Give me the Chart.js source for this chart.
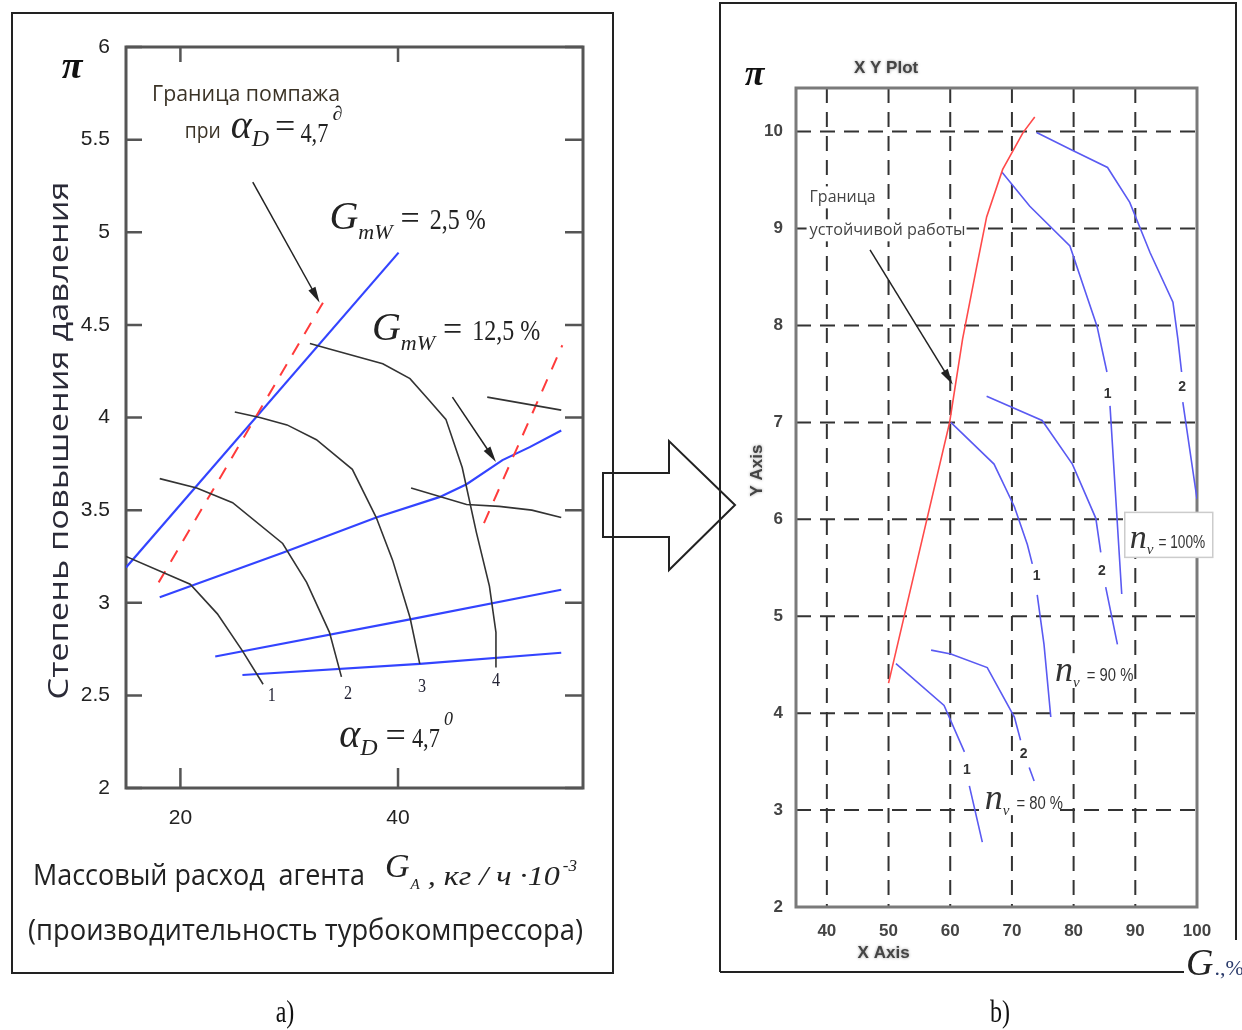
<!DOCTYPE html>
<html>
<head>
<meta charset="utf-8">
<script src="https://cdn.jsdelivr.net/npm/chart.js@4.4.0/dist/chart.umd.min.js"></script>
<style>
html, body { margin: 0; padding: 0; background: #fff; }
#wrap { position: relative; width: 1242px; height: 1030px; overflow: hidden; background: #fff; }
canvas { position: absolute; top: 0; }
#deco { left: 0; }
#chartA { left: 0; }
#chartB { left: 620px; }
</style>
</head>
<body>
<div id="wrap">
  <canvas id="deco" width="1242" height="1030"></canvas>
  <canvas id="chartA" width="620" height="1030"></canvas>
  <canvas id="chartB" width="622" height="1030"></canvas>
</div>
<script>
// ---------- panel a) : G_A (kg/h*10^-3) vs pi ----------
var xTicksA = [20, 40];
var yTicksA = [2, 2.5, 3, 3.5, 4, 4.5, 5, 5.5, 6];

// blue lines (constant G_mW)
var gmw25 = [[15, 3.19], [40.05, 4.89]];
var gmw125 = [[18.1, 3.03], [29.4, 3.27], [38.0, 3.46], [43.8, 3.57], [46.3, 3.64], [49.6, 3.77], [52.1, 3.84], [55.0, 3.93]];
var blueC = [[23.2, 2.71], [41.1, 2.91], [55.0, 3.07]];
var blueD = [[25.7, 2.61], [42.0, 2.67], [55.0, 2.73]];

// black speed lines 1..4
var speed1 = [[15, 3.25], [20.9, 3.10], [23.4, 2.94], [25.7, 2.74], [27.6, 2.56]];
var speed2 = [[18.1, 3.67], [21.5, 3.62], [24.8, 3.54], [29.4, 3.32], [31.6, 3.11], [33.7, 2.84], [34.8, 2.60]];
var speed3 = [[25.0, 4.03], [27.3, 4.00], [29.8, 3.96], [32.5, 3.88], [35.8, 3.72], [38.0, 3.46], [39.5, 3.23], [41.1, 2.92], [42.0, 2.67]];
var speed4 = [[31.9, 4.40], [33.7, 4.37], [38.6, 4.29], [41.1, 4.21], [42.9, 4.09], [44.4, 3.99], [45.9, 3.73], [47.2, 3.38], [48.4, 3.09], [49.0, 2.84], [49.0, 2.65]];
var blackTop = [[48.2, 4.11], [55.0, 4.04]];
var blackMid = [[41.2, 3.62], [46.3, 3.53], [49.3, 3.52], [52.3, 3.50], [55.0, 3.46]];

// red dashed surge limits
var surgeA = [[18.0, 3.11], [33.1, 4.62]];
var surgeB = [[47.9, 3.43], [55.1, 4.39]];

// ---------- panel b) : G (%) vs pi ----------
var xTicksB = [40, 50, 60, 70, 80, 90, 100];
var yTicksB = [2, 3, 4, 5, 6, 7, 8, 9, 10];

var stableLine = [[50.0, 4.31], [59.9, 7.00], [62.0, 7.86], [64.3, 8.61], [65.9, 9.12], [68.5, 9.61], [71.8, 9.99], [73.7, 10.15]];
var n100c1 = [[68.4, 9.58], [72.9, 9.23], [79.4, 8.82], [83.8, 7.99], [85.4, 7.52], [85.6, null], [85.9, 7.17], [87.8, 5.23]];
var n100c2 = [[74.0, 9.99], [79.7, 9.81], [85.5, 9.63], [89.1, 9.27], [92.4, 8.75], [96.1, 8.24], [96.9, 7.86], [97.5, 7.52], [97.6, null], [97.7, 7.21], [100, 6.21]];
var n90c1 = [[60.1, 7.00], [67.1, 6.57], [70.4, 6.13], [72.5, 5.74], [73.3, 5.54], [73.7, null], [74.1, 5.22], [75.2, 4.71], [76.3, 3.96]];
var n90c2 = [[65.9, 7.27], [74.9, 7.02], [79.8, 6.57], [83.6, 6.01], [84.4, 5.66], [84.8, null], [85.2, 5.30], [87.1, 4.71]];
var n80c1 = [[51.2, 4.51], [59.0, 4.08], [62.3, 3.60], [62.7, null], [63.1, 3.25], [65.2, 2.67]];
var n80c2 = [[56.9, 4.65], [60.1, 4.61], [66.0, 4.47], [70.4, 3.96], [71.4, 3.72], [71.9, null], [72.8, 3.44], [73.6, 3.30]];

var SANS = '"Open Sans", "Noto Sans", sans-serif';
var SERIF = '"Liberation Serif", "DejaVu Serif", serif';
var ARIAL = '"Liberation Sans", Arial, sans-serif';

function pts(arr) {
  return arr.map(function (p) { return { x: p[0], y: p[1] }; });
}

function line(arr, color, width, dash) {
  return {
    data: pts(arr),
    borderColor: color,
    borderWidth: width,
    borderDash: dash || [],
    pointRadius: 0,
    fill: false,
    tension: 0,
    spanGaps: false
  };
}

// draw a row of text pieces, each with its own font; returns the end x
function rich(ctx, x, y, parts) {
  ctx.textAlign = 'left';
  ctx.textBaseline = 'alphabetic';
  parts.forEach(function (p) {
    ctx.font = p.f;
    ctx.fillStyle = p.c || '#222';
    var w = ctx.measureText(p.t).width;
    var sx = p.w ? p.w / w : (p.sx || 1);
    x += (p.dx || 0);
    ctx.save();
    ctx.translate(x, y + (p.dy || 0));
    ctx.scale(sx, 1);
    ctx.fillText(p.t, 0, 0);
    ctx.restore();
    x += w * sx;
  });
  return x;
}

function arrow(ctx, x1, y1, x2, y2, len, half) {
  var a = Math.atan2(y2 - y1, x2 - x1);
  ctx.save();
  ctx.strokeStyle = '#222';
  ctx.fillStyle = '#222';
  ctx.lineWidth = 1.5;
  ctx.beginPath();
  ctx.moveTo(x1, y1);
  ctx.lineTo(x2 - len * 0.6 * Math.cos(a), y2 - len * 0.6 * Math.sin(a));
  ctx.stroke();
  ctx.beginPath();
  ctx.moveTo(x2, y2);
  ctx.lineTo(x2 - len * Math.cos(a) + half * Math.sin(a), y2 - len * Math.sin(a) - half * Math.cos(a));
  ctx.lineTo(x2 - len * Math.cos(a) - half * Math.sin(a), y2 - len * Math.sin(a) + half * Math.cos(a));
  ctx.closePath();
  ctx.fill();
  ctx.restore();
}

function px(chart, x, y) {
  return [chart.scales.x.getPixelForValue(x), chart.scales.y.getPixelForValue(y)];
}
function sx(chart, v) { return chart.scales.x.getPixelForValue(v); }

// ---------- panel a) decorations ----------
var notesA = [
  { x: 17.4, y: 5.71, parts: [{ t: 'Граница помпажа', f: '21px ' + SANS, c: '#3b3326', w: 188 }] },
  { x: 20.4, y: 5.51, parts: [
    { t: 'при', f: '21px ' + SANS, c: '#3b3326', w: 36 },
    { t: 'α', f: 'italic 40px ' + SERIF, dx: 10 },
    { t: 'D', f: 'italic 24px ' + SERIF, dy: 8 },
    { t: '=', f: '36px ' + SERIF, dx: 6 },
    { t: '4,7', f: '28px ' + SERIF, dx: 5, dy: 4, sx: 0.8 },
    { t: '∂', f: 'italic 20px ' + SERIF, dx: 4, dy: -18 }] },
  { x: 33.7, y: 5.02, parts: [
    { t: 'G', f: 'italic 40px ' + SERIF },
    { t: 'mW', f: 'italic 22px ' + SERIF, dy: 10 },
    { t: '=', f: '34px ' + SERIF, dx: 8 },
    { t: '2,5 %', f: '30px ' + SERIF, dx: 10, sx: 0.8 }] },
  { x: 37.6, y: 4.42, parts: [
    { t: 'G', f: 'italic 40px ' + SERIF },
    { t: 'mW', f: 'italic 22px ' + SERIF, dy: 10 },
    { t: '=', f: '34px ' + SERIF, dx: 8 },
    { t: '12,5 %', f: '30px ' + SERIF, dx: 10, sx: 0.8 }] },
  { x: 34.6, y: 2.22, parts: [
    { t: 'α', f: 'italic 40px ' + SERIF },
    { t: 'D', f: 'italic 24px ' + SERIF, dy: 8 },
    { t: '=', f: '36px ' + SERIF, dx: 8 },
    { t: '4,7', f: '28px ' + SERIF, dx: 6, sx: 0.8 },
    { t: '0', f: 'italic 18px ' + SERIF, dx: 4, dy: -22 }] },
  { x: 9.1, y: 5.83, parts: [{ t: 'π', f: 'italic bold 38px ' + SERIF, c: '#111' }] }
];
var curveNumsA = [['1', 28.4, 2.47], ['2', 35.4, 2.48], ['3', 42.2, 2.52], ['4', 49.0, 2.55]];
var arrowsA = [[26.65, 5.27, 32.8, 4.62], [45.0, 4.11, 49.0, 3.76]];

var plugA = {
  id: 'plugA',
  beforeDatasetsDraw: function (chart) {
    var ctx = chart.ctx, a = chart.chartArea;
    var sX = chart.scales.x, sY = chart.scales.y;
    ctx.save();
    ctx.strokeStyle = '#555';
    ctx.lineWidth = 3;
    ctx.strokeRect(a.left, a.top, a.right - a.left, a.bottom - a.top);
    ctx.lineWidth = 2.5;
    ctx.beginPath();
    yTicksA.forEach(function (v) {
      var y = sY.getPixelForValue(v);
      ctx.moveTo(a.left, y); ctx.lineTo(a.left + 16, y);
      ctx.moveTo(a.right, y); ctx.lineTo(a.right - 18, y);
    });
    xTicksA.forEach(function (v) {
      var x = sX.getPixelForValue(v);
      ctx.moveTo(x, a.top); ctx.lineTo(x, a.top + 15);
      ctx.moveTo(x, a.bottom); ctx.lineTo(x, a.bottom - 20);
    });
    ctx.stroke();
    ctx.restore();
  },
  afterDraw: function (chart) {
    var ctx = chart.ctx, a = chart.chartArea;
    ctx.save();
    notesA.forEach(function (n) {
      var p = px(chart, n.x, n.y);
      rich(ctx, p[0], p[1], n.parts);
    });
    ctx.font = '19px ' + SERIF;
    ctx.fillStyle = '#223';
    ctx.textAlign = 'center';
    curveNumsA.forEach(function (c) {
      var p = px(chart, c[1], c[2]);
      ctx.save(); ctx.translate(p[0], p[1]); ctx.scale(0.85, 1); ctx.fillText(c[0], 0, 0); ctx.restore();
    });
    arrowsA.forEach(function (r) {
      var p = px(chart, r[0], r[1]), q = px(chart, r[2], r[3]);
      arrow(ctx, p[0], p[1], q[0], q[1], 16, 4);
    });
    // y axis title
    ctx.save();
    ctx.translate(a.left - 58, (a.top + a.bottom) / 2 + 23);
    ctx.rotate(-Math.PI / 2);
    rich(ctx, -259, 0, [{ t: 'Степень повышения давления', f: '28px ' + SANS, c: '#2b2b38', w: 518 }]);
    ctx.restore();
    // x axis title
    rich(ctx, a.left - 93, a.bottom + 97, [
      { t: 'Массовый расход  агента', f: '29px ' + SANS, c: '#222', w: 332 },
      { t: 'G', f: 'italic 34px ' + SERIF, dx: 20, dy: -8 },
      { t: 'A', f: 'italic 15px ' + SERIF, dx: 1, dy: 4 },
      { t: ' , кг / ч ·10', f: 'italic 27px ' + SERIF, dx: 0, w: 140 },
      { t: '-3', f: 'italic 17px ' + SERIF, dx: 3, dy: -14 }
    ]);
    rich(ctx, a.left - 98, a.bottom + 152, [
      { t: '(производительность турбокомпрессора)', f: '30px ' + SANS, c: '#222', w: 555 }
    ]);
    ctx.restore();
  }
};

new Chart(document.getElementById('chartA'), {
  type: 'line',
  data: {
    datasets: [
      line(speed1, '#333', 1.6), line(speed2, '#333', 1.6), line(speed3, '#333', 1.6), line(speed4, '#333', 1.6),
      line(blackTop, '#333', 1.6), line(blackMid, '#333', 1.6),
      line(surgeA, '#ff3b3b', 2, [13, 11]), line(surgeB, '#ff3b3b', 2, [13, 11]),
      line(gmw25, '#3344ff', 2.2), line(gmw125, '#3344ff', 2.2), line(blueC, '#3344ff', 2.2), line(blueD, '#3344ff', 2.2)
    ]
  },
  options: {
    responsive: false,
    animation: false,
    devicePixelRatio: 1,
    layout: { padding: { top: 47, right: 37, left: 0, bottom: 0 } },
    plugins: { legend: { display: false }, tooltip: { enabled: false } },
    scales: {
      x: {
        type: 'linear', min: 15, max: 57,
        grid: { display: false }, border: { display: false },
        afterBuildTicks: function (s) { s.ticks = xTicksA.map(function (v) { return { value: v }; }); },
        afterFit: function (s) { s.height = 242; },
        ticks: { font: { family: ARIAL, size: 21 }, color: '#222', padding: 10, maxRotation: 0,
                 callback: function (v) { return String(v); } }
      },
      y: {
        type: 'linear', min: 2, max: 6,
        grid: { display: false }, border: { display: false },
        afterBuildTicks: function (s) { s.ticks = yTicksA.map(function (v) { return { value: v }; }); },
        afterFit: function (s) { s.width = 126; },
        ticks: { font: { family: ARIAL, size: 21 }, color: '#222', padding: 8,
                 callback: function (v) { return String(v); } }
      }
    }
  },
  plugins: [plugA]
});

// ---------- panel b) decorations ----------
var notesB = [
  { x: 37.2, y: 9.27, bg: [70, 22], parts: [{ t: 'Граница', f: '17px ' + SANS, c: '#444', w: 66 }] },
  { x: 37.2, y: 8.93, bg: [160, 22], parts: [{ t: 'устойчивой работы', f: '17px ' + SANS, c: '#444', w: 156 }] },
  { x: 77.0, y: 4.33, bg: [76, 34], parts: [
    { t: 'n', f: 'italic 36px ' + SERIF, c: '#333' },
    { t: 'v', f: 'italic 15px ' + SERIF, c: '#333', dy: 6 },
    { t: '= 90 %', f: '19px ' + ARIAL, c: '#333', dx: 7, sx: 0.78 }] },
  { x: 65.6, y: 3.01, bg: [78, 34], parts: [
    { t: 'n', f: 'italic 36px ' + SERIF, c: '#333' },
    { t: 'v', f: 'italic 15px ' + SERIF, c: '#333', dy: 6 },
    { t: '= 80 %', f: '19px ' + ARIAL, c: '#333', dx: 7, sx: 0.78 }] },
  { x: 26.7, y: 10.48, parts: [{ t: 'π', f: 'italic bold 36px ' + SERIF, c: '#111' }] }
];
var label100 = { x: 89.1, y: 5.70 };
var curveNumsB = [['1', 85.5, 7.29], ['2', 97.6, 7.36], ['1', 74.0, 5.41], ['2', 84.6, 5.47], ['1', 62.7, 3.41], ['2', 71.9, 3.58]];
var arrowB = [47.0, 8.78, 60.4, 7.39];

var plugB = {
  id: 'plugB',
  beforeDatasetsDraw: function (chart) {
    var ctx = chart.ctx, a = chart.chartArea;
    var sX = chart.scales.x, sY = chart.scales.y;
    ctx.save();
    ctx.strokeStyle = '#333';
    ctx.lineWidth = 2;
    ctx.setLineDash([15, 9]);
    ctx.beginPath();
    xTicksB.forEach(function (v) {
      var x = sX.getPixelForValue(v);
      if (x < a.right - 2) { ctx.moveTo(x, a.top); ctx.lineTo(x, a.bottom); }
    });
    yTicksB.forEach(function (v) {
      var y = sY.getPixelForValue(v);
      if (y < a.bottom - 2) { ctx.moveTo(a.left, y); ctx.lineTo(a.right, y); }
    });
    ctx.stroke();
    ctx.setLineDash([]);
    ctx.strokeStyle = '#7a7a7a';
    ctx.lineWidth = 3;
    ctx.strokeRect(a.left, a.top, a.right - a.left, a.bottom - a.top);
    // white patches behind labels so the grid breaks there
    ctx.fillStyle = '#fff';
    notesB.forEach(function (n) {
      if (!n.bg) return;
      var p = px(chart, n.x, n.y);
      ctx.fillRect(p[0] - 3, p[1] - n.bg[1] + 6, n.bg[0], n.bg[1]);
    });
    curveNumsB.forEach(function (c) {
      var q = px(chart, c[1], c[2]);
      ctx.fillRect(q[0] - 7, q[1] - 10, 14, 20);
    });
    ctx.restore();
  },
  afterDraw: function (chart) {
    var ctx = chart.ctx, a = chart.chartArea;
    ctx.save();
    notesB.forEach(function (n) {
      var p = px(chart, n.x, n.y);
      rich(ctx, p[0], p[1], n.parts);
    });
    // boxed 100% label
    var p = px(chart, label100.x, label100.y);
    ctx.fillStyle = '#fff';
    ctx.fillRect(p[0] - 5, p[1] - 36, 88, 45);
    ctx.strokeStyle = '#ccc';
    ctx.lineWidth = 1.5;
    ctx.strokeRect(p[0] - 5, p[1] - 36, 88, 45);
    rich(ctx, p[0], p[1], [
      { t: 'n', f: 'italic 34px ' + SERIF, c: '#333' },
      { t: 'v', f: 'italic 15px ' + SERIF, c: '#333', dy: 6 },
      { t: '= 100%', f: '19px ' + ARIAL, c: '#333', dx: 5, sx: 0.72 }
    ]);
    ctx.font = 'bold 14px ' + ARIAL;
    ctx.fillStyle = '#333';
    ctx.textAlign = 'center';
    ctx.textBaseline = 'middle';
    curveNumsB.forEach(function (c) {
      var q = px(chart, c[1], c[2]);
      ctx.fillText(c[0], q[0], q[1]);
    });
    var s = px(chart, arrowB[0], arrowB[1]), e = px(chart, arrowB[2], arrowB[3]);
    arrow(ctx, s[0], s[1], e[0], e[1], 16, 4);
    // gray captions of the plot window
    ctx.shadowColor = '#999';
    ctx.shadowBlur = 3;
    ctx.fillStyle = '#444';
    ctx.font = 'bold 17px ' + ARIAL;
    ctx.textAlign = 'center';
    ctx.textBaseline = 'alphabetic';
    ctx.fillText('X Y Plot', sx(chart, 49.6), a.top - 15);
    ctx.fillText('X Axis', sx(chart, 49.2), a.bottom + 51);
    ctx.save();
    ctx.translate(sx(chart, 28.65), (a.top + a.bottom) / 2 - 27);
    ctx.rotate(-Math.PI / 2);
    ctx.textBaseline = 'middle';
    ctx.fillText('Y Axis', 0, 0);
    ctx.restore();
    ctx.restore();
  }
};

new Chart(document.getElementById('chartB'), {
  type: 'line',
  data: {
    datasets: [
      line(stableLine, '#ff4a4a', 1.6),
      line(n100c1, '#5a5af2', 1.6), line(n100c2, '#5a5af2', 1.6),
      line(n90c1, '#5a5af2', 1.6), line(n90c2, '#5a5af2', 1.6),
      line(n80c1, '#5a5af2', 1.6), line(n80c2, '#5a5af2', 1.6)
    ]
  },
  options: {
    responsive: false,
    animation: false,
    devicePixelRatio: 1,
    layout: { padding: { top: 88, right: 45, left: 0, bottom: 0 } },
    plugins: { legend: { display: false }, tooltip: { enabled: false } },
    scales: {
      x: {
        type: 'linear', min: 35, max: 100,
        grid: { display: false }, border: { display: false },
        afterBuildTicks: function (s) { s.ticks = xTicksB.map(function (v) { return { value: v }; }); },
        afterFit: function (s) { s.height = 123; },
        ticks: { font: { family: ARIAL, size: 17, weight: 'bold' }, color: '#444', padding: 6, maxRotation: 0 }
      },
      y: {
        type: 'linear', min: 2, max: 10.45,
        grid: { display: false }, border: { display: false },
        afterBuildTicks: function (s) { s.ticks = yTicksB.map(function (v) { return { value: v }; }); },
        afterFit: function (s) { s.width = 176; },
        ticks: { font: { family: ARIAL, size: 17, weight: 'bold' }, color: '#444', padding: 5 }
      }
    }
  },
  plugins: [plugB]
});

// ---------- page frames, big arrow, captions ----------
(function () {
  var c = document.getElementById('deco').getContext('2d');
  c.fillStyle = '#fff';
  c.fillRect(0, 0, 1242, 1030);
  c.strokeStyle = '#222';
  c.lineWidth = 2;
  c.strokeRect(12, 13, 601, 960);
  c.beginPath();
  c.moveTo(720, 972); c.lineTo(720, 3); c.lineTo(1236, 3); c.lineTo(1236, 940);
  c.moveTo(720, 972); c.lineTo(1184, 972);
  c.stroke();
  // hollow arrow between panels
  c.lineWidth = 2;
  c.beginPath();
  c.moveTo(603, 473); c.lineTo(669, 473); c.lineTo(669, 441); c.lineTo(735, 505);
  c.lineTo(669, 570); c.lineTo(669, 537); c.lineTo(603, 537); c.closePath();
  c.stroke();
  rich(c, 1186, 975, [
    { t: 'G', f: 'italic 38px ' + SERIF, c: '#222' },
    { t: '.,%', f: '22px ' + SERIF, c: '#2a3a6a', dx: 1 }
  ]);
  c.textAlign = 'center';
  c.font = '32px ' + SERIF;
  c.fillStyle = '#111';
  c.save(); c.translate(285, 1022); c.scale(0.75, 1); c.fillText('a)', 0, 0); c.restore();
  c.save(); c.translate(1000, 1022); c.scale(0.75, 1); c.fillText('b)', 0, 0); c.restore();
})();
</script>
</body>
</html>
